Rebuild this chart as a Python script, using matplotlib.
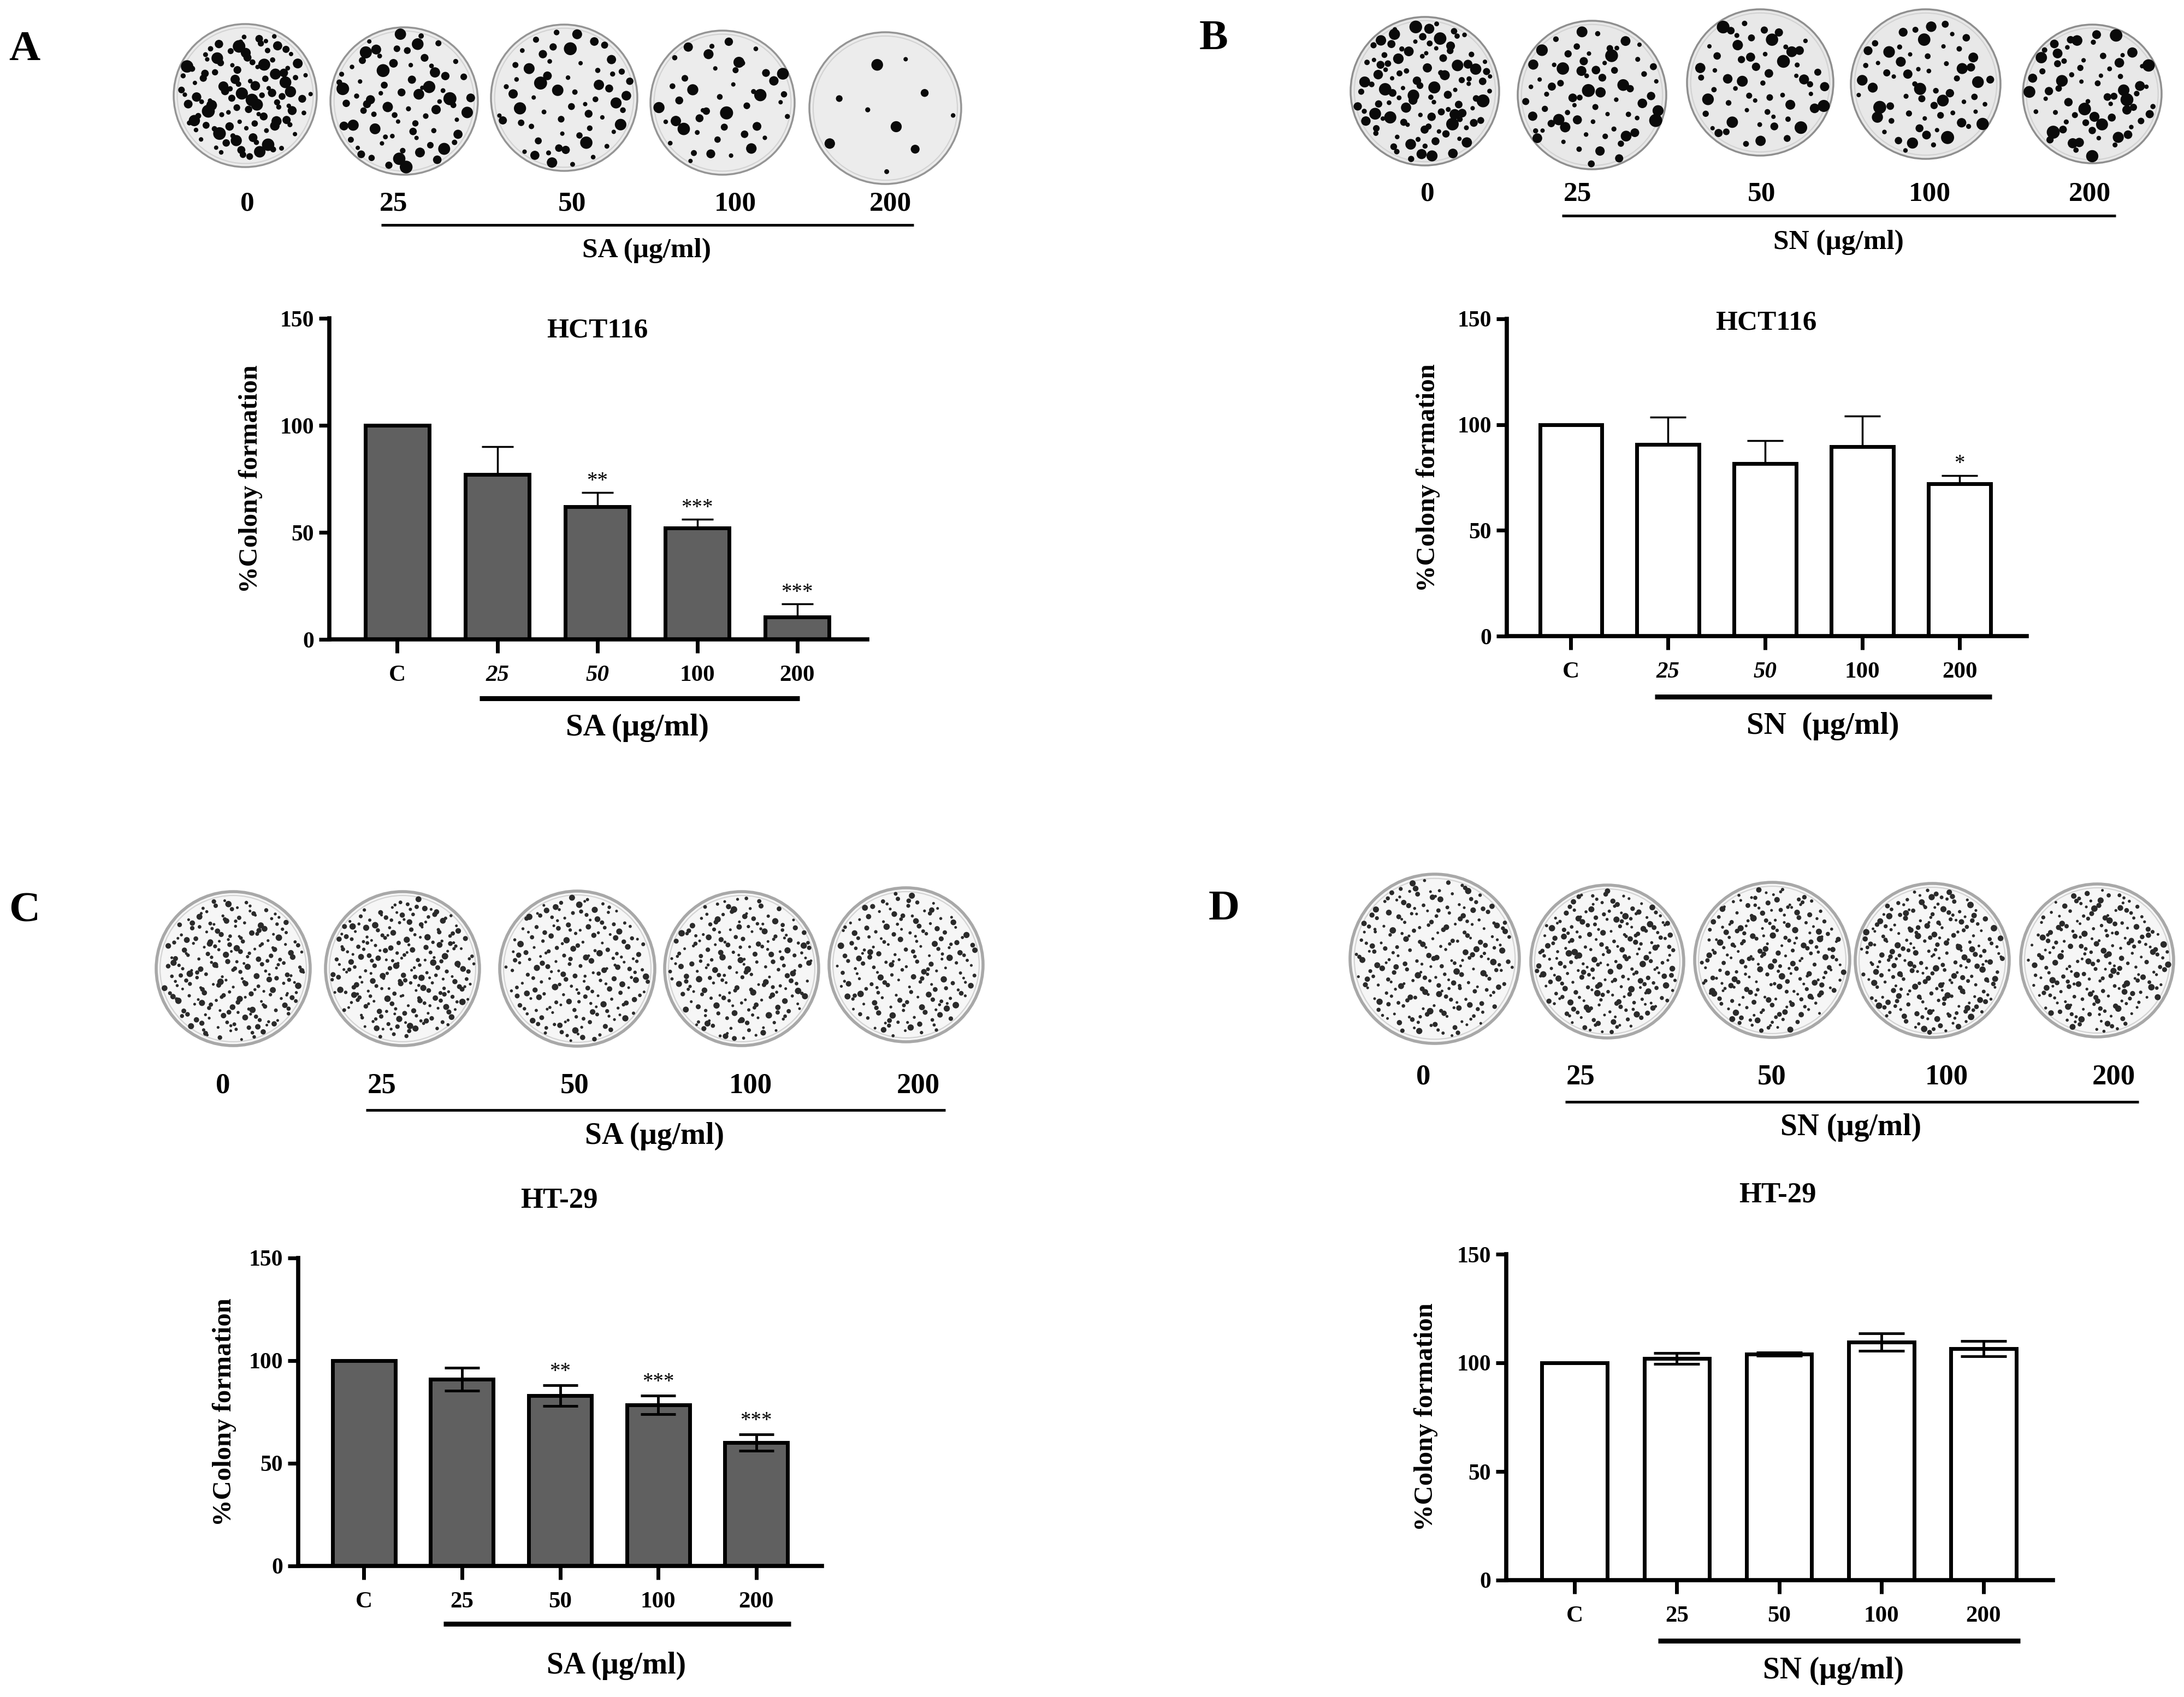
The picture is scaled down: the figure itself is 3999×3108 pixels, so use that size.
import numpy as np
import matplotlib
matplotlib.use('Agg')
import matplotlib.pyplot as plt
from matplotlib.patches import Circle
from matplotlib.collections import PatchCollection

plt.rcParams['font.family'] = ['Liberation Serif', 'DejaVu Serif']

W, H = 3999, 3108

groups = ['C', '25', '50', '100', '200']
doses = ['0', '25', '50', '100', '200']

# bar data (mean, sd)
a_mean = [100, 77, 62, 52, 10.5]
a_err = [0, 13, 6.5, 4, 6]
a_stars = ['', '', '**', '***', '***']

b_mean = [100, 90.5, 81.5, 89.5, 72]
b_err = [0, 13, 11, 14.5, 4]
b_stars = ['', '', '', '', '*']

c_mean = [100, 91, 83, 78.5, 60]
c_err = [0, 5.5, 5, 4.5, 4]
c_stars = ['', '', '**', '***', '***']

d_mean = [100, 102, 104, 109.5, 106.5]
d_err = [0, 2.5, 0.8, 4, 3.5]
d_stars = ['', '', '', '', '']

# approx colonies seen per dish
a_colonies = [110, 75, 60, 45, 10]
b_colonies = [110, 70, 60, 65, 70]
c_colonies = [230, 240, 200, 210, 190]
d_colonies = [240, 240, 230, 250, 220]

fig = plt.figure(figsize=(W / 100, H / 100), dpi=100)
ov = fig.add_axes([0, 0, 1, 1])
ov.set_xlim(0, W)
ov.set_ylim(H, 0)
ov.axis('off')


def halton(k, b):
    f, r = 1.0, 0.0
    while k > 0:
        f /= b
        r += f * (k % b)
        k //= b
    return r


def colony_pos(cx, cy, r, n, smin, smax, start):
    # halton points kept inside the dish
    xs, ys, ss = [], [], []
    k = start
    while len(xs) < n:
        u = 2 * halton(k, 2) - 1
        v = 2 * halton(k, 3) - 1
        w = halton(k, 5)
        k += 1
        if u * u + v * v < 0.88:
            xs.append(cx + r * u)
            ys.append(cy + r * v)
            ss.append(smin + (smax - smin) * w ** 2)
    return xs, ys, ss


def dish_row(xs, ys, rs, counts, smin, smax, fill, rim, rimw, dot, seed):
    for i in range(len(xs)):
        ov.add_patch(Circle((xs[i], ys[i]), rs[i], facecolor=fill, edgecolor=rim, lw=rimw, zorder=1))
        ov.add_patch(Circle((xs[i], ys[i]), rs[i] * 0.95, facecolor='none', edgecolor='#d2d2d2', lw=1.5, zorder=1))
        px, py, ps = colony_pos(xs[i], ys[i], rs[i], counts[i], smin, smax, seed + 397 * i)
        pc = PatchCollection([Circle((px[j], py[j]), ps[j]) for j in range(len(px))],
                             facecolor=dot, edgecolor='none', zorder=2)
        ov.add_collection(pc)


def dish_labels(xs, y, line_y, x0, x1, cap_xy, cap, fs, capfs):
    for x, t in zip(xs, doses):
        ov.text(x, y, t, ha='center', va='center', fontsize=fs, fontweight='bold')
    ov.plot([x0, x1], [line_y, line_y], color='black', lw=3.5, solid_capstyle='butt')
    ov.text(cap_xy[0], cap_xy[1], cap, ha='center', va='center', fontsize=capfs, fontweight='bold')


def bar_panel(box, xlim, means, errs, stars, color, onesided, capsize, elw, italic, star_off):
    left, right, top, bottom = box
    ax = fig.add_axes([left / W, 1 - bottom / H, (right - left) / W, (bottom - top) / H])
    ax.patch.set_alpha(0)
    x = np.arange(len(groups))
    ax.bar(x, means, width=0.64, color=color, edgecolor='black', linewidth=5, zorder=2)
    m = np.array(means, dtype=float)
    e = np.array(errs, dtype=float)
    low = np.zeros_like(e) if onesided else e
    for i in range(1, len(x)):
        ax.errorbar(x[i], m[i], yerr=[[low[i]], [e[i]]], fmt='none', ecolor='black',
                    elinewidth=elw, capsize=capsize, capthick=elw, zorder=3)
        if stars[i]:
            ax.text(x[i], m[i] + e[i] + star_off, stars[i], ha='center', va='baseline', fontsize=28)
    ax.set_xlim(*xlim)
    ax.set_ylim(0, 150)
    ax.set_yticks([0, 50, 100, 150])
    ax.set_xticks(x)
    ax.set_xticklabels(groups)
    for sp in ['top', 'right']:
        ax.spines[sp].set_visible(False)
    for sp in ['left', 'bottom']:
        ax.spines[sp].set_linewidth(5.5)
    ax.tick_params(axis='y', direction='out', length=14, width=5, labelsize=30, pad=6)
    ax.tick_params(axis='x', direction='out', length=18, width=5, labelsize=31, pad=16)
    for lab in ax.get_yticklabels() + ax.get_xticklabels():
        lab.set_fontweight('bold')
    if italic:
        for i in (1, 2):
            ax.get_xticklabels()[i].set_fontstyle('italic')
    return ax


def bar_extras(title_xy, title, tfs, line_y, x0, x1, cap_xy, cap, capfs, ylab_xy):
    ov.text(title_xy[0], title_xy[1], title, ha='center', va='center', fontsize=tfs, fontweight='bold')
    ov.plot([x0, x1], [line_y, line_y], color='black', lw=6.5, solid_capstyle='butt')
    ov.text(cap_xy[0], cap_xy[1], cap, ha='center', va='center', fontsize=capfs, fontweight='bold')
    ov.text(ylab_xy[0], ylab_xy[1], '%Colony formation', rotation=90, ha='center', va='center',
            fontsize=35, fontweight='bold')


# panel letters
for t, xy in zip('ABCD', [(45, 92), (2222, 72), (45, 1669), (2241, 1665)]):
    ov.text(xy[0], xy[1], t, ha='center', va='center', fontsize=57, fontweight='bold')

# A
dish_row([449, 740, 1033, 1323, 1621], [175, 185, 179, 188, 198], [131, 135, 134, 132, 139],
         a_colonies, 4, 12, '#ececec', '#959595', 2.5, '#0a0a0a', 11)
dish_labels([453, 721, 1048, 1346, 1630], 374, 412, 698, 1673, (1184, 459), 'SA (μg/ml)', 37, 37)
bar_panel((603, 1588, 583, 1171), (-0.68, 4.70), a_mean, a_err, a_stars, '#606060', True, 21, 2.5, True, 3)
bar_extras((1094, 606), 'HCT116', 37, 1279, 878, 1464, (1167, 1333), 'SA (μg/ml)', 41, (459, 877))

# B
dish_row([2609, 2915, 3223, 3526, 3831], [167, 174, 151, 154, 172], [136, 136, 134, 137, 127],
         b_colonies, 4, 12, '#e8e8e8', '#8f8f8f', 2.5, '#0a0a0a', 2503)
dish_labels([2614, 2889, 3226, 3533, 3826], 355, 395, 2860, 3874, (3366, 444), 'SN (μg/ml)', 37, 37)
bar_panel((2759, 3711, 584, 1165), (-0.66, 4.69), b_mean, b_err, b_stars, 'white', True, 24, 2.5, True, 3)
bar_extras((3234, 592), 'HCT116', 37, 1276, 3030, 3647, (3338, 1330), 'SN  (μg/ml)', 41, (2615, 875))

# C
dish_row([427, 737, 1057, 1358, 1659], [1774, 1774, 1774, 1774, 1767], [141, 141, 142, 141, 141],
         c_colonies, 2.5, 6, '#f6f6f6', '#a8a8a8', 4, '#2a2a2a', 5907)
dish_labels([408, 699, 1052, 1374, 1681], 1988, 2033, 670, 1731, (1199, 2081), 'SA (μg/ml)', 38, 40)
bar_panel((546, 1505, 2304, 2868), (-0.67, 4.67), c_mean, c_err, c_stars, '#606060', False, 23, 3.5, False, 4)
bar_extras((1024, 2199), 'HT-29', 38, 2974, 812, 1448, (1129, 3051), 'SA (μg/ml)', 40, (411, 2586))

# D
dish_row([2627, 2943, 3245, 3538, 3840], [1756, 1761, 1758, 1759, 1759], [155, 140, 142, 141, 140],
         d_colonies, 2.5, 6, '#f6f6f6', '#a8a8a8', 4, '#2a2a2a', 9301)
dish_labels([2606, 2894, 3244, 3564, 3870], 1973, 2018, 2866, 3916, (3389, 2065), 'SN (μg/ml)', 38, 40)
bar_panel((2758, 3759, 2297, 2894), (-0.67, 4.68), d_mean, d_err, d_stars, 'white', False, 30, 3.5, False, 4)
bar_extras((3255, 2188), 'HT-29', 38, 3005, 3036, 3699, (3357, 3060), 'SN (μg/ml)', 40, (2611, 2595))

fig.savefig('out.png', dpi=100)
